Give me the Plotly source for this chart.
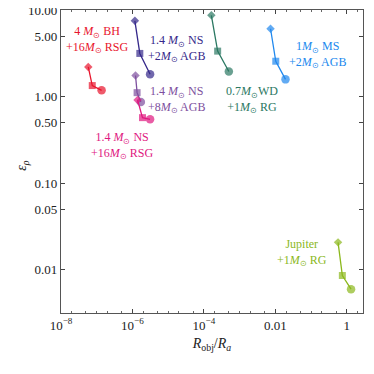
import math
import plotly.graph_objects as go

# Systems: each has three points (diamond, square, circle)
systems = ["bh_rsg16", "ns_agb2", "ns_agb8", "ns_rsg16", "wd_rg1", "ms_agb2", "jup_rg1"]
labels = [
    "4 <i>M</i><sub>⊙</sub> BH<br>+16<i>M</i><sub>⊙</sub> RSG",
    "1.4 <i>M</i><sub>⊙</sub> NS<br>+2<i>M</i><sub>⊙</sub> AGB",
    "1.4 <i>M</i><sub>⊙</sub> NS<br>+8<i>M</i><sub>⊙</sub> AGB",
    "1.4 <i>M</i><sub>⊙</sub> NS<br>+16<i>M</i><sub>⊙</sub> RSG",
    "0.7<i>M</i><sub>⊙</sub>WD<br>+1<i>M</i><sub>⊙</sub> RG",
    "1<i>M</i><sub>⊙</sub> MS<br>+2<i>M</i><sub>⊙</sub> AGB",
    "Jupiter<br>+1<i>M</i><sub>⊙</sub> RG",
]
colors = ["#e8142c", "#35288a", "#7d4f9e", "#e0177f", "#2b7862", "#2088ee", "#8bb81c"]

r_ratio = [
    [5.8e-8, 7.5e-8, 1.37e-7],
    [1.17e-6, 1.61e-6, 3.12e-6],
    [1.22e-6, 1.35e-6, 1.72e-6],
    [1.39e-6, 1.91e-6, 3.12e-6],
    [1.62e-4, 2.43e-4, 5.0e-4],
    [7.35e-3, 1.03e-2, 1.93e-2],
    [0.571, 0.753, 1.32],
]
eps_rho = [
    [2.2, 1.34, 1.18],
    [7.5, 3.15, 1.81],
    [1.75, 1.11, 0.867],
    [0.914, 0.571, 0.546],
    [8.69, 3.35, 1.95],
    [6.07, 2.56, 1.58],
    [0.0207, 0.00857, 0.00596],
]
# label anchor positions (data coords)
label_x = [1.01e-7, 1.74e-5, 1.74e-5, 5.06e-7, 2.16e-3, 0.151, 0.0575]
label_y = [4.55, 3.58, 0.918, 0.273, 0.918, 3.05, 0.0157]

x_tickvals = [1e-8, 1e-6, 1e-4, 1e-2, 1]
x_ticktext = ["10<sup>−8</sup>", "10<sup>−6</sup>", "10<sup>−4</sup>", "0.01", "1"]
y_tickvals = [10, 5, 1, 0.5, 0.1, 0.05, 0.01]
y_ticktext = ["10.00", "5.00", "1.00", "0.50", "0.10", "0.05", "0.01"]

fig = go.Figure()
for i in range(len(systems)):
    fig.add_trace(go.Scatter(
        x=r_ratio[i], y=eps_rho[i], mode="lines+markers",
        line=dict(color=colors[i], width=1.3),
        marker=dict(color=colors[i], symbol=["diamond", "square", "circle"],
                    size=[6.5, 7, 8.5], line=dict(width=0)),
        showlegend=False, hoverinfo="skip",
    ))
    fig.add_annotation(x=math.log10(label_x[i]), y=math.log10(label_y[i]),
                       xref="x", yref="y",
                       text=labels[i], showarrow=False,
                       font=dict(color=colors[i], size=12, family="Liberation Serif"),
                       align="center")

# y-axis title as a rotated annotation
fig.add_annotation(x=-0.162, y=0.488, xref="paper", yref="paper",
                   text="<i>ε</i><sub><i>ρ</i></sub>", showarrow=False, textangle=-90,
                   font=dict(family="Liberation Serif", size=14, color="#222"))

axis_common = dict(
    type="log", showgrid=False, zeroline=False, showline=True,
    linecolor="#555", linewidth=1.2, mirror="allticks", ticks="inside",
    ticklen=4, tickcolor="#444", automargin=False, ticklabeloverflow="allow",
    tickfont=dict(family="Liberation Serif", size=13, color="#222"),
)
fig.update_xaxes(range=[-8, 0.455], tickvals=x_tickvals, ticktext=x_ticktext,
                 minor=dict(ticks="inside", ticklen=2, tickcolor="#666", showgrid=False),
                 title=dict(text="<i>R</i><sub>obj</sub>/<i>R</i><sub><i>a</i></sub>",
                            font=dict(family="Liberation Serif", size=14, color="#222"),
                            standoff=6),
                 **axis_common)
fig.update_yaxes(range=[-2.5, 1], tickvals=y_tickvals, ticktext=y_ticktext,
                 **axis_common)
fig.update_layout(
    width=374, height=374, margin=dict(l=53, r=19, t=2, b=69),
    paper_bgcolor="white", plot_bgcolor="white",
)
fig.write_html("out.html")
